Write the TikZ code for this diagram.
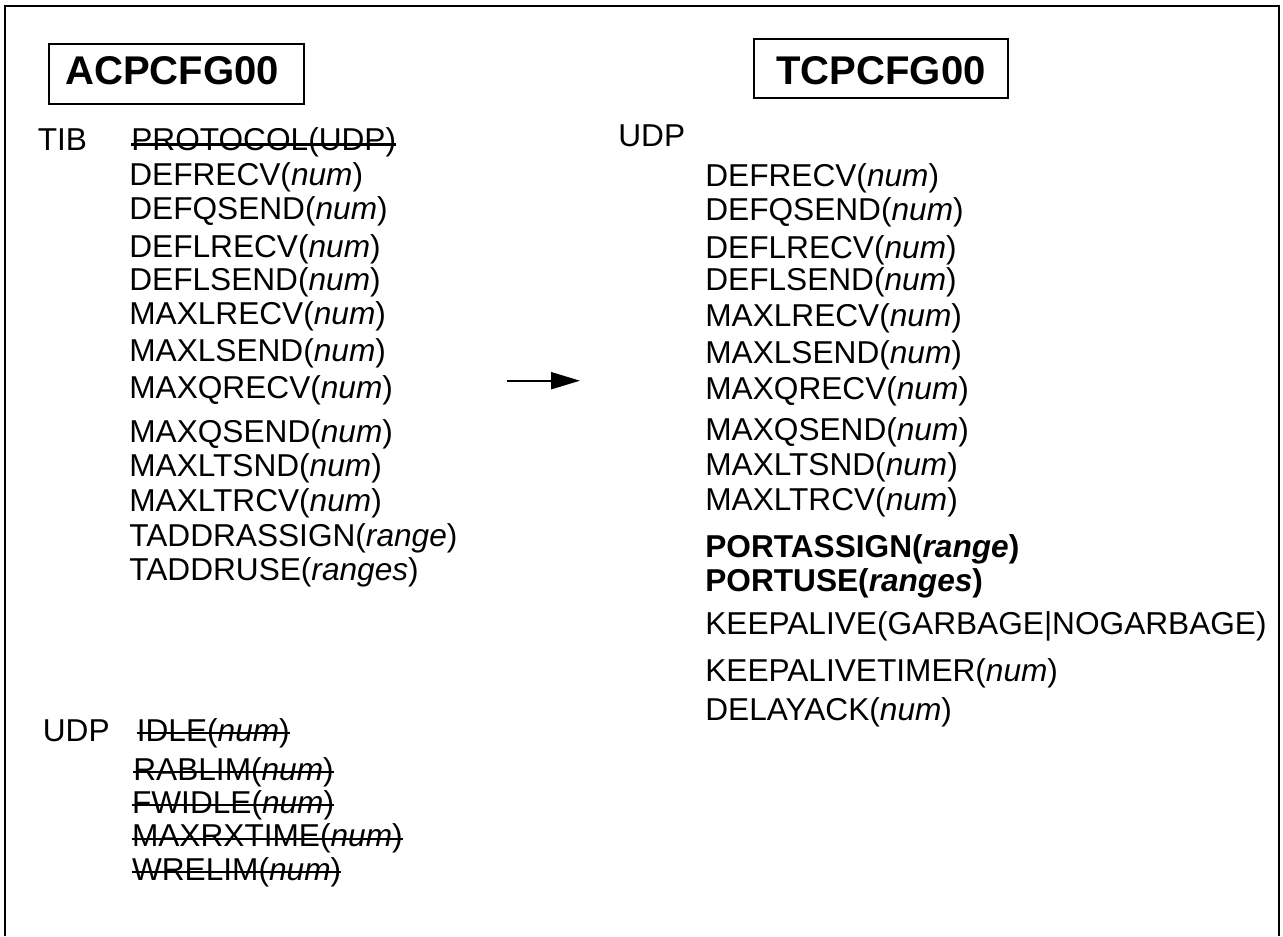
\documentclass[tikz,border=0pt]{standalone}
\usepackage{fontspec}
\setmainfont{Liberation Sans}
\usetikzlibrary{arrows.meta}

\tikzset{
  frame/.style={line width=1.1pt},
  hdbox/.style={draw, line width=1.1pt, inner sep=0pt,
                font=\fontsize{22.8}{27}\selectfont\bfseries},
  parm/.style={anchor=base west, inner sep=0pt,
               font=\fontsize{18}{22}\selectfont},
  strk/.style={line width=1.3pt},
  flow/.style={line width=1.15pt, -{Triangle[length=0.58cm,width=0.34cm]}}
}

\begin{document}
\begin{tikzpicture}[x=0.02cm, y=-0.02cm]
  \useasboundingbox (0,0) rectangle (1283,936);
  \draw[frame] (5,936) -- (5,6) -- (1279,6) -- (1279,936);

  % member headings
  \node[hdbox, anchor=north west, text width=4.46cm, inner xsep=0.32cm,
        text height=0.8cm, text depth=0.39cm, align=left] (acp) at (48.3,43.3)
        {ACPCFG00};
  \node[hdbox, anchor=north west, text width=5.08cm, align=center,
        text height=0.91cm, text depth=0.28cm] (tcp) at (753,37.7)
        {TCPCFG00};

  % old statement: TIB
  \node[parm] (tib) at (37.5,150) {TIB};
  \node[parm] (prot) at (131,150) {PROTOCOL(UDP)};
  \draw[strk] ([yshift=0.11cm]prot.base west) -- ([yshift=0.11cm]prot.base east);
  \foreach \y/\txt [count=\i] in {
    185.7/DEFRECV(\textit{num}),
    219/DEFQSEND(\textit{num}),
    257/DEFLRECV(\textit{num}),
    290/DEFLSEND(\textit{num}),
    324/MAXLRECV(\textit{num}),
    361.7/MAXLSEND(\textit{num}),
    398/MAXQRECV(\textit{num}),
    442.7/MAXQSEND(\textit{num}),
    476.7/MAXLTSND(\textit{num}),
    511.7/MAXLTRCV(\textit{num}),
    546.7/TADDRASSIGN(\textit{range}),
    580/TADDRUSE(\textit{ranges})
  } {
    \node[parm] (old\i) at (129,\y) {\txt};
  }

  % old statement: UDP (dropped, struck out)
  \node[parm] (udpold) at (42.5,741) {UDP};
  \foreach \x/\y/\txt [count=\i] in {
    136.5/741/IDLE(\textit{num}),
    133/780/RABLIM(\textit{num}),
    131.7/813/FWIDLE(\textit{num}),
    131.7/846.7/MAXRXTIME(\textit{num}),
    131.7/880/WRELIM(\textit{num})
  } {
    \node[parm] (drop\i) at (\x,\y) {\txt};
    \draw[strk] ([yshift=0.16cm]drop\i.base west) -- ([yshift=0.16cm]drop\i.base east);
  }

  % new statement: UDP
  \node[parm] (udpnew) at (618,146.7) {UDP};
  \foreach \y/\txt [count=\i] in {
    186.7/DEFRECV(\textit{num}),
    220.7/DEFQSEND(\textit{num}),
    258.3/DEFLRECV(\textit{num}),
    290/DEFLSEND(\textit{num}),
    326.7/MAXLRECV(\textit{num}),
    363.3/MAXLSEND(\textit{num}),
    399/MAXQRECV(\textit{num}),
    440/MAXQSEND(\textit{num}),
    475/MAXLTSND(\textit{num}),
    510.7/MAXLTRCV(\textit{num}),
    557/{\textbf{PORTASSIGN(\textit{range})}},
    591/{\textbf{PORTUSE(\textit{ranges})}},
    634.7/KEEPALIVE(GARBAGE|NOGARBAGE),
    681/KEEPALIVETIMER(\textit{num}),
    720/DELAYACK(\textit{num})
  } {
    \node[parm] (new\i) at (705,\y) {\txt};
  }

  % migration arrow
  \coordinate (from) at (506.7,380.7);
  \coordinate (to) at (580,380.7);
  \draw[flow] (from) -- (to);
\end{tikzpicture}
\end{document}
